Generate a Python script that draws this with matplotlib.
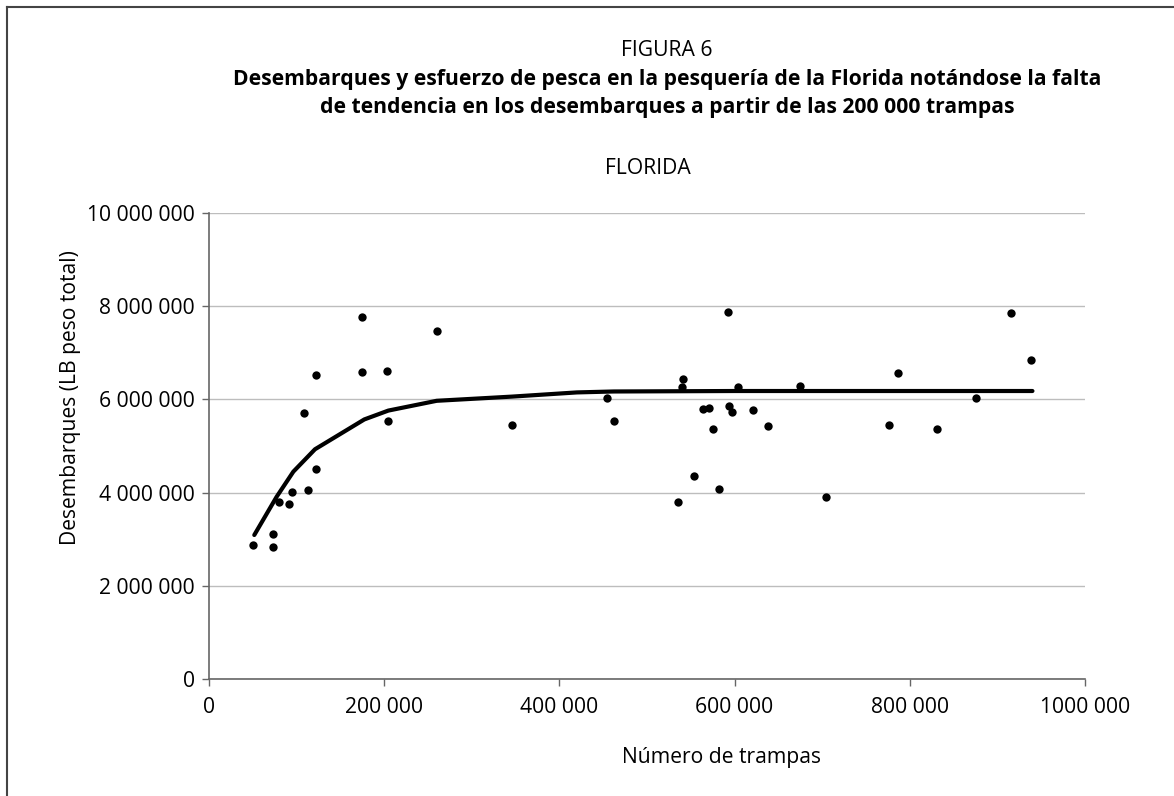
import matplotlib
matplotlib.use("Agg")
import matplotlib.pyplot as plt
from matplotlib.lines import Line2D

plt.rcParams['font.family'] = ['Open Sans', 'DejaVu Sans']

# Observed effort (number of traps) and landings (lb whole weight)
traps = [50600, 73400, 73400, 79500, 91700, 95100, 113400, 122100, 108800, 122100,
         175000, 174700, 202800, 204000, 259900, 345900, 454700, 462000, 540700, 539600,
         535400, 553700, 563500, 571200, 575300, 582600, 592500, 593600, 597000, 603900,
         621400, 638500, 674300, 704300, 776300, 786200, 830700, 875200, 915100, 938000]
landings = [2880000, 3110000, 2830000, 3800000, 3760000, 4020000, 4050000, 4500000, 5700000, 6520000,
            6590000, 7760000, 6620000, 5540000, 7470000, 5440000, 6040000, 5540000, 6440000, 6270000,
            3800000, 4350000, 5790000, 5820000, 5370000, 4080000, 7880000, 5850000, 5720000, 6270000,
            5770000, 5420000, 6290000, 3910000, 5440000, 6570000, 5370000, 6040000, 7850000, 6840000]

# Fitted production curve
fit_traps = [51700, 77200, 96300, 121000, 177300, 204700, 259900, 346000, 420000, 462000, 600000, 940000]
fit_landings = [3090000, 3910000, 4450000, 4930000, 5570000, 5760000, 5970000, 6060000, 6150000, 6170000,
                6180000, 6180000]

x_ticks = [0, 200000, 400000, 600000, 800000, 1000000]
x_tick_labels = ["0", "200 000", "400 000", "600 000", "800 000", "1000 000"]
y_ticks = [0, 2000000, 4000000, 6000000, 8000000, 10000000]
y_tick_labels = ["0", "2 000 000", "4 000 000", "6 000 000", "8 000 000", "10 000 000"]

FS = 15.2
W, H = 1174, 796
fig = plt.figure(figsize=(W / 100, H / 100), dpi=100)
ax = fig.add_axes([209 / W, 1 - 679 / H, (1085 - 209) / W, (679 - 213) / H])

ax.plot(fit_traps, fit_landings, color='black', linewidth=3.0, solid_capstyle='round', zorder=3)
ax.scatter(traps, landings, s=36, color='black', zorder=4, linewidths=0)

ax.set_xlim(0, 1000000)
ax.set_ylim(0, 10000000)
ax.set_xticks(x_ticks)
ax.set_xticklabels(x_tick_labels)
ax.set_yticks(y_ticks)
ax.set_yticklabels(y_tick_labels)
ax.tick_params(axis='both', labelsize=FS, length=5, width=1, color='#666666', direction='out', pad=5)
ax.tick_params(axis='x', pad=8)

ax.grid(axis='y', color='#bdbdbd', linewidth=1)
ax.set_axisbelow(True)
for side in ('top', 'right'):
    ax.spines[side].set_visible(False)
for side in ('left', 'bottom'):
    ax.spines[side].set_color('#666666')
    ax.spines[side].set_linewidth(1.2)

# Titles and axis labels
fig.text(667 / W, 1 - 50 / H, "FIGURA 6", ha='center', va='center', fontsize=FS)
fig.text(667 / W, 1 - 80 / H,
         "Desembarques y esfuerzo de pesca en la pesquería de la Florida notándose la falta",
         ha='center', va='center', fontsize=FS, fontweight='bold')
fig.text(667 / W, 1 - 108 / H,
         "de tendencia en los desembarques a partir de las 200 000 trampas",
         ha='center', va='center', fontsize=FS, fontweight='bold')
fig.text(648 / W, 1 - 169 / H, "FLORIDA", ha='center', va='center', fontsize=FS)
fig.text(71 / W, 1 - 398 / H, "Desembarques (LB peso total)", ha='center', va='center',
         rotation=90, fontsize=FS)
fig.text(722 / W, 1 - 757 / H, "Número de trampas", ha='center', va='center', fontsize=FS)

# Frame around the figure
fig.add_artist(Line2D([7 / W, 7 / W], [0, 1 - 7 / H], color='#444444', linewidth=1.5))
fig.add_artist(Line2D([7 / W, 1], [1 - 7 / H, 1 - 7 / H], color='#444444', linewidth=1.5))

fig.savefig("out.png", dpi=100)
